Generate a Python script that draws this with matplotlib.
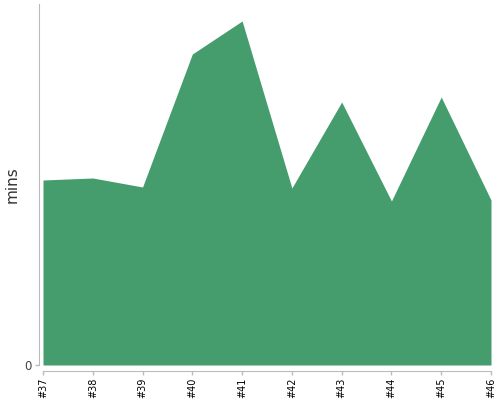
import matplotlib
matplotlib.use('Agg')
import matplotlib.pyplot as plt
import numpy as np

# build durations
builds = ['#37', '#38', '#39', '#40', '#41', '#42', '#43', '#44', '#45', '#46']
mins = [18.5, 18.7, 17.8, 31.1, 34.4, 17.7, 26.3, 16.4, 26.8, 16.5]

fig = plt.figure(figsize=(5, 4), dpi=100)
ax = fig.add_axes([0.086, 0.0875, 0.896, 0.9025])

x = np.arange(len(builds))
ax.fill_between(x, 0, mins, color='#459c6c', linewidth=0)

ax.set_xlim(0, len(builds) - 1)
ax.set_ylim(0, 36.1)

for side in ['top', 'right']:
    ax.spines[side].set_visible(False)
ax.spines['left'].set_position(('outward', 3))
ax.spines['bottom'].set_position(('outward', 4))
ax.spines['left'].set_color('#bbbbbb')
ax.spines['bottom'].set_color('#bbbbbb')
ax.tick_params(axis='both', color='#bbbbbb', length=3, width=1, pad=2)

ax.set_xticks(x)
ax.set_xticklabels(builds, fontsize=7, color='black')
ax.tick_params(axis='x', labelrotation=90)
ax.set_yticks([0])
ax.set_yticklabels(['0'], fontsize=8.5, color='#444444')
ax.set_ylabel('mins', fontsize=11, color='#333333')
ax.yaxis.set_label_coords(-0.052, 0.5)

fig.savefig('out.png', dpi=100)
